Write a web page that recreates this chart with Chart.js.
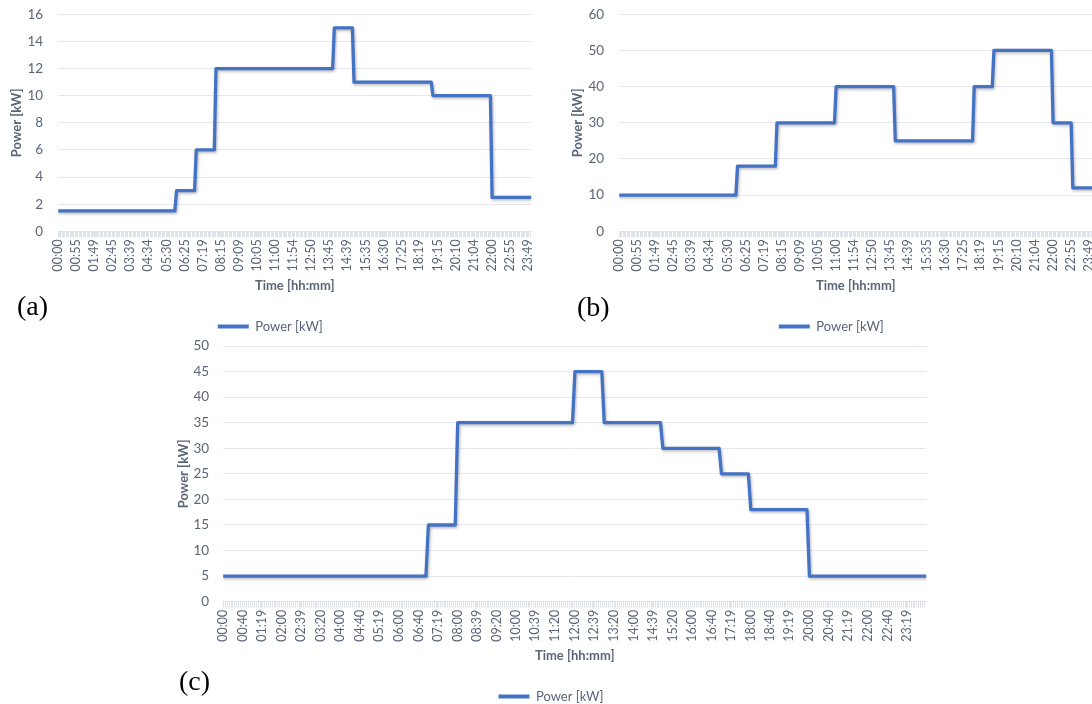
<!DOCTYPE html>
<html>
<head>
<meta charset="utf-8">
<title>Power profiles</title>
<script src="https://cdn.jsdelivr.net/npm/chart.js@4.4.1/dist/chart.umd.min.js"></script>
<style>
  html, body { margin: 0; padding: 0; background: #fff; width: 1092px; height: 704px; overflow: hidden; }
  body { position: relative; }
  canvas { position: absolute; }
  .tag { position: absolute; font-family: "Liberation Serif", serif; font-size: 28px; line-height: 28px; color: #000; }
</style>
</head>
<body>
<canvas id="chart-a" width="541" height="343" style="left:0;top:0"></canvas>
<canvas id="chart-b" width="541" height="343" style="left:561px;top:0"></canvas>
<canvas id="chart-c" width="770" height="383" style="left:166px;top:330px"></canvas>
<div class="tag" style="left:17px;top:292px">(a)</div>
<div class="tag" style="left:577px;top:293px">(b)</div>
<div class="tag" style="left:179px;top:667px">(c)</div>

<script>
// tick labels shown on the time axes
const tickLabelsA = ["00:00","00:55","01:49","02:45","03:39","04:34","05:30","06:25","07:19","08:15",
    "09:09","10:05","11:00","11:54","12:50","13:45","14:39","15:35","16:30","17:25","18:19","19:15",
    "20:10","21:04","22:00","22:55","23:49"];
const tickLabelsB = tickLabelsA.slice();
const tickLabelsC = ["00:00","00:40","01:19","02:00","02:39","03:20","04:00","04:40","05:19","06:00",
    "06:40","07:19","08:00","08:39","09:20","10:00","10:39","11:20","12:00","12:39","13:20","14:00",
    "14:39","15:20","16:00","16:40","17:19","18:00","18:40","19:19","20:00","20:40","21:19","22:00",
    "22:40","23:19"];

// times where the power level changes, and the levels (kW) before/after each change
const stepTimesA = ["06:00","07:00","08:00","14:00","15:00","19:00","22:00"];
const levelsA = [1.5, 3, 6, 12, 15, 11, 10, 2.5];
const stepTimesB = ["06:00","08:00","11:00","14:00","18:00","19:00","22:00","23:00"];
const levelsB = [10, 18, 30, 40, 25, 40, 50, 30, 12];
const stepTimesC = ["07:00","08:00","12:00","13:00","15:00","17:00","18:00","20:00"];
const levelsC = [5, 15, 35, 45, 35, 30, 25, 18, 5];

const TEXT = "#5b6578";
const GRID = "#e4e8ee";
const TICKS = "#dfe3ea";
const FONT = "Lato";

const toMin = s => { const [h, m] = s.split(":").map(Number); return h * 60 + m; };

// 5-minute sampled step profile
function stepPoints(times, levels) {
    const pts = [{ x: 0, y: levels[0] }];
    times.forEach((t, i) => {
        const m = toMin(t);
        pts.push({ x: m - 5, y: levels[i] });
        pts.push({ x: m, y: levels[i + 1] });
    });
    pts.push({ x: 1439, y: levels[levels.length - 1] });
    return pts;
}

const lineShadow = {
    id: "lineShadow",
    beforeDatasetsDraw(chart) {
        const c = chart.ctx;
        c.save();
        c.shadowColor = "rgba(0,0,0,0.28)";
        c.shadowBlur = 3;
        c.shadowOffsetX = 1;
        c.shadowOffsetY = 1.5;
    },
    afterDatasetsDraw(chart) { chart.ctx.restore(); }
};

function makeChart(id, labels, times, levels, yMax, yStep, box) {
    const labelAt = {};
    labels.forEach(l => { labelAt[toMin(l)] = l; });

    return new Chart(document.getElementById(id), {
        type: "line",
        data: {
            datasets: [{
                label: "Power [kW]",
                data: stepPoints(times, levels),
                borderColor: "#4472C4",
                backgroundColor: "#4472C4",
                borderWidth: 3.3,
                pointRadius: 0,
                tension: 0,
                fill: false,
                borderJoinStyle: "round",
                borderCapStyle: "round"
            }]
        },
        plugins: [lineShadow],
        options: {
            responsive: false,
            animation: false,
            layout: { padding: { left: box.padLeft, right: box.padRight, top: box.padTop, bottom: 0 } },
            plugins: {
                tooltip: { enabled: false },
                legend: {
                    position: "bottom",
                    labels: {
                        boxWidth: 31,
                        boxHeight: 4,
                        padding: 10,
                        color: TEXT,
                        font: { family: FONT, size: 13 },
                        generateLabels: chart => Chart.defaults.plugins.legend.labels.generateLabels(chart)
                            .map(item => ({ ...item, lineWidth: 0 }))
                    }
                }
            },
            scales: {
                x: {
                    type: "linear",
                    min: 0,
                    max: 1439,
                    grid: { drawOnChartArea: false, drawTicks: true, tickLength: 6, color: TICKS },
                    border: { color: TICKS },
                    ticks: {
                        autoSkip: false,
                        minRotation: 90,
                        maxRotation: 90,
                        padding: 2,
                        color: TEXT,
                        font: { family: FONT, size: 12.5 },
                        callback: v => labelAt[v] || ""
                    },
                    afterBuildTicks: scale => {
                        const vals = new Set();
                        for (let m = 0; m <= 1439; m += 4) vals.add(m);
                        labels.forEach(l => vals.add(toMin(l)));
                        scale.ticks = [...vals].sort((a, b) => a - b).map(v => ({ value: v }));
                    },
                    afterFit: scale => {
                        scale.height = box.xHeight;
                        scale.paddingLeft = 0;
                        scale.paddingRight = 0;
                    },
                    title: {
                        display: true,
                        text: "Time [hh:mm]",
                        color: TEXT,
                        font: { family: FONT, size: 13, weight: "bold" },
                        padding: { top: 0, bottom: 16 }
                    }
                },
                y: {
                    min: 0,
                    max: yMax,
                    grid: { color: GRID, drawTicks: false },
                    border: { display: false },
                    ticks: {
                        stepSize: yStep,
                        padding: box.yTickPad,
                        color: TEXT,
                        font: { family: FONT, size: 13.5 }
                    },
                    afterFit: scale => {
                        scale.width = box.yWidth;
                        scale.paddingTop = 0;
                        scale.paddingBottom = 0;
                    },
                    title: {
                        display: true,
                        text: "Power [kW]",
                        color: TEXT,
                        font: { family: FONT, size: 13, weight: "bold" },
                        padding: { top: 0, bottom: 0 }
                    }
                }
            }
        }
    });
}

document.addEventListener("DOMContentLoaded", () => {
    const topBox = { padLeft: 9.4, padRight: 9.8, padTop: 14.3, yWidth: 48.8, xHeight: 78.7, yTickPad: 15 };
    makeChart("chart-a", tickLabelsA, stepTimesA, levelsA, 16, 2, topBox);
    makeChart("chart-b", tickLabelsB, stepTimesB, levelsB, 60, 10, topBox);
    makeChart("chart-c", tickLabelsC, stepTimesC, levelsC, 50, 5,
        { padLeft: 9.8, padRight: 9.8, padTop: 16, yWidth: 47.4, xHeight: 78.3, yTickPad: 14 });
});
</script>
</body>
</html>
